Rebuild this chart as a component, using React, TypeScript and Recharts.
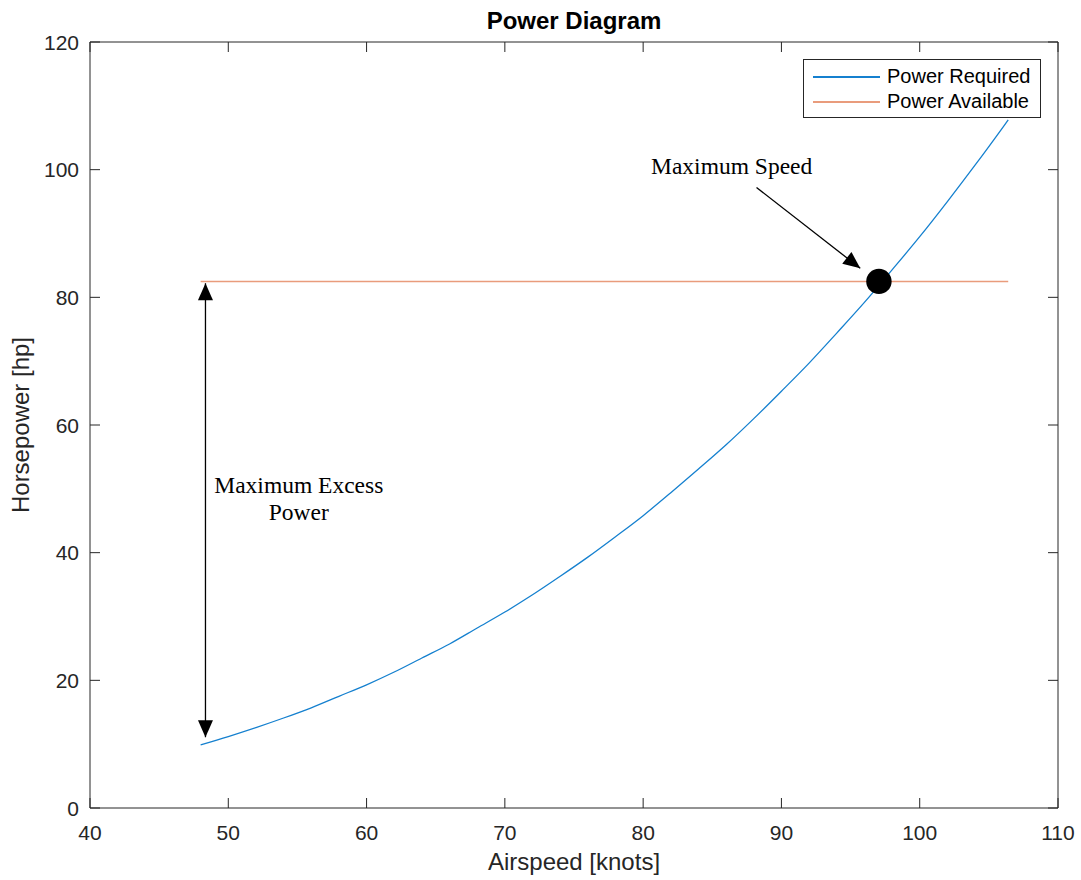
import React from 'react';
import { LineChart, Line, XAxis, YAxis, ReferenceLine, ReferenceDot, Legend } from 'recharts';

// values
const airspeed = [48, 50, 52, 54, 56, 58, 60, 62, 64, 66, 68, 70, 72, 74, 76, 78, 80, 82, 84, 86, 88, 90, 92, 94, 96, 98, 100, 102, 104, 106, 106.4];
const powerRequired = [9.9, 11.2, 12.6, 14.1, 15.7, 17.5, 19.3, 21.3, 23.5, 25.7, 28.2, 30.7, 33.4, 36.3, 39.3, 42.5, 45.8, 49.4, 53.1, 56.9, 61.0, 65.3, 69.7, 74.4, 79.2, 84.3, 89.5, 95.0, 100.7, 106.6, 107.8];
const availableSpeed = [48, 106.4];
const powerAvailable = [82.5, 82.5];
const seriesNames = ['Power Required', 'Power Available'];

const xTicks = [40, 50, 60, 70, 80, 90, 100, 110];
const yTicks = [0, 20, 40, 60, 80, 100, 120];

const maxSpeed = { knots: 97.05, hp: 82.5 };
const excessArrow = { knots: 48.35, top: 82.2, bottom: 11.1 };
const speedArrow = { fromKnots: 88.2, fromHp: 97.2, toKnots: 95.7, toHp: 84.55 };
const speedLabel = { knots: 86.4, hp: 100.65 };
const excessLabel = { knots: 55.1, line1: 50.6, line2: 46.45 };

const requiredData = airspeed.map((v, i) => ({ v, p: powerRequired[i] }));
const availableData = availableSpeed.map((v, i) => ({ v, p: powerAvailable[i] }));

const SANS = '"Liberation Sans", Arial, Helvetica, sans-serif';
const SERIF = '"Liberation Serif", "Times New Roman", serif';
const AXIS = '#262626';
const TICK_LEN = 10;

const head = (tx: number, ty: number, fx: number, fy: number, len: number, half: number) => {
  const dx = tx - fx;
  const dy = ty - fy;
  const d = Math.hypot(dx, dy) || 1;
  const ux = dx / d;
  const uy = dy / d;
  const bx = tx - ux * len;
  const by = ty - uy * len;
  return `${tx},${ty} ${bx - uy * half},${by + ux * half} ${bx + uy * half},${by - ux * half}`;
};

const arrow = (double: boolean) => (props: any) => {
  const { x1, y1, x2, y2 } = props;
  return (
    <g>
      <line x1={x1} y1={y1} x2={x2} y2={y2} stroke="#000" strokeWidth={1.3} />
      <polygon points={head(x2, y2, x1, y1, 17, 7.5)} fill="#000" />
      {double && <polygon points={head(x1, y1, x2, y2, 17, 7.5)} fill="#000" />}
    </g>
  );
};

// inward ticks (MATLAB style box)
const BottomTick = (p: any) => (
  <g>
    <line x1={p.x} y1={p.y} x2={p.x} y2={p.y - TICK_LEN} stroke={AXIS} />
    <text x={p.x} y={p.y + 32} textAnchor="middle" fontFamily={SANS} fontSize={21} fill={AXIS}>
      {p.payload.value}
    </text>
  </g>
);
const LeftTick = (p: any) => (
  <g>
    <line x1={p.x} y1={p.y} x2={p.x + TICK_LEN} y2={p.y} stroke={AXIS} />
    <text x={p.x - 11} y={p.y + 7.5} textAnchor="end" fontFamily={SANS} fontSize={21} fill={AXIS}>
      {p.payload.value}
    </text>
  </g>
);
const TopTick = (p: any) => <line x1={p.x} y1={p.y} x2={p.x} y2={p.y + TICK_LEN} stroke={AXIS} />;
const RightTick = (p: any) => <line x1={p.x} y1={p.y} x2={p.x - TICK_LEN} y2={p.y} stroke={AXIS} />;

const LegendBox = (props: any) => {
  const items = ((props.payload || []) as any[])
    .slice()
    .sort((a, b) => seriesNames.indexOf(a.value) - seriesNames.indexOf(b.value));
  return (
    <div
      style={{
        boxSizing: 'border-box',
        width: 238,
        height: 59,
        border: `1px solid ${AXIS}`,
        background: '#fff',
        padding: '4px 0 0 9px',
        fontFamily: SANS,
        fontSize: 20,
        color: '#000',
      }}
    >
      {items.map((e) => (
        <div key={e.value} style={{ display: 'flex', alignItems: 'center', height: 25 }}>
          <span style={{ display: 'inline-block', width: 67, height: 0, borderTop: `2px solid ${e.color}`, marginRight: 7 }} />
          <span>{e.value}</span>
        </div>
      ))}
    </div>
  );
};

const annot = { fontFamily: SERIF, fontSize: 23.5, fill: '#000' };

export default function App() {
  return (
    <div style={{ position: 'absolute', left: 0, top: 0, background: '#fff' }}>
      <LineChart width={1081} height={880} margin={{ top: 41, right: 22, bottom: 12, left: 10 }}>
        <XAxis
          dataKey="v"
          type="number"
          domain={[40, 110]}
          ticks={xTicks}
          height={60}
          tick={<BottomTick />}
          tickSize={0}
          tickMargin={0}
          axisLine={{ stroke: AXIS }}
          tickLine={false}
          label={{
            content: (p: any) => (
              <text x={p.viewBox.x + p.viewBox.width / 2} y={p.viewBox.y + 62} textAnchor="middle" fontFamily={SANS} fontSize={24} fill={AXIS}>
                Airspeed [knots]
              </text>
            ),
          }}
        />
        <XAxis
          xAxisId="top"
          orientation="top"
          dataKey="v"
          type="number"
          domain={[40, 110]}
          ticks={xTicks}
          height={1}
          tick={<TopTick />}
          tickSize={0}
          tickMargin={0}
          axisLine={{ stroke: AXIS }}
          tickLine={false}
          label={{
            content: (p: any) => (
              <text x={p.viewBox.x + p.viewBox.width / 2} y={p.viewBox.y + p.viewBox.height - 13} textAnchor="middle" fontFamily={SANS} fontSize={24} fontWeight="bold" fill="#000">
                Power Diagram
              </text>
            ),
          }}
        />
        <YAxis
          type="number"
          domain={[0, 120]}
          ticks={yTicks}
          width={80}
          tick={<LeftTick />}
          tickSize={0}
          tickMargin={0}
          axisLine={{ stroke: AXIS }}
          tickLine={false}
          label={{
            content: (p: any) => {
              const cx = p.viewBox.x + 19;
              const cy = p.viewBox.y + p.viewBox.height / 2;
              return (
                <text x={cx} y={cy} transform={`rotate(-90 ${cx} ${cy})`} textAnchor="middle" fontFamily={SANS} fontSize={24} fill={AXIS}>
                  Horsepower [hp]
                </text>
              );
            },
          }}
        />
        <YAxis
          yAxisId="right"
          orientation="right"
          type="number"
          domain={[0, 120]}
          ticks={yTicks}
          width={1}
          tick={<RightTick />}
          tickSize={0}
          tickMargin={0}
          axisLine={{ stroke: AXIS }}
          tickLine={false}
        />
        <Legend
          layout="horizontal"
          verticalAlign="middle"
          wrapperStyle={{ position: 'absolute', left: 803, top: 59, width: 238, height: 59, right: 'auto', bottom: 'auto' }}
          content={(p: any) => <LegendBox {...p} />}
        />
        <Line
          data={requiredData}
          dataKey="p"
          name="Power Required"
          type="monotone"
          stroke="#1580CF"
          strokeWidth={1.3}
          dot={false}
          isAnimationActive={false}
        />
        <Line
          data={availableData}
          dataKey="p"
          name="Power Available"
          xAxisId="top"
          yAxisId="right"
          type="linear"
          stroke="#E99C7C"
          strokeWidth={1.5}
          dot={false}
          isAnimationActive={false}
        />
        <ReferenceLine
          segment={[
            { x: excessArrow.knots, y: excessArrow.top },
            { x: excessArrow.knots, y: excessArrow.bottom },
          ]}
          shape={arrow(true)}
        />
        <ReferenceLine
          segment={[
            { x: speedArrow.fromKnots, y: speedArrow.fromHp },
            { x: speedArrow.toKnots, y: speedArrow.toHp },
          ]}
          shape={arrow(false)}
        />
        <ReferenceDot x={maxSpeed.knots} y={maxSpeed.hp} r={12.7} fill="#000" stroke="none" />
        <ReferenceDot x={speedLabel.knots} y={speedLabel.hp} r={0} fill="none" stroke="none" label={{ value: 'Maximum Speed', position: 'center', ...annot }} />
        <ReferenceDot x={excessLabel.knots} y={excessLabel.line1} r={0} fill="none" stroke="none" label={{ value: 'Maximum Excess', position: 'center', ...annot }} />
        <ReferenceDot x={excessLabel.knots} y={excessLabel.line2} r={0} fill="none" stroke="none" label={{ value: 'Power', position: 'center', ...annot }} />
      </LineChart>
    </div>
  );
}
